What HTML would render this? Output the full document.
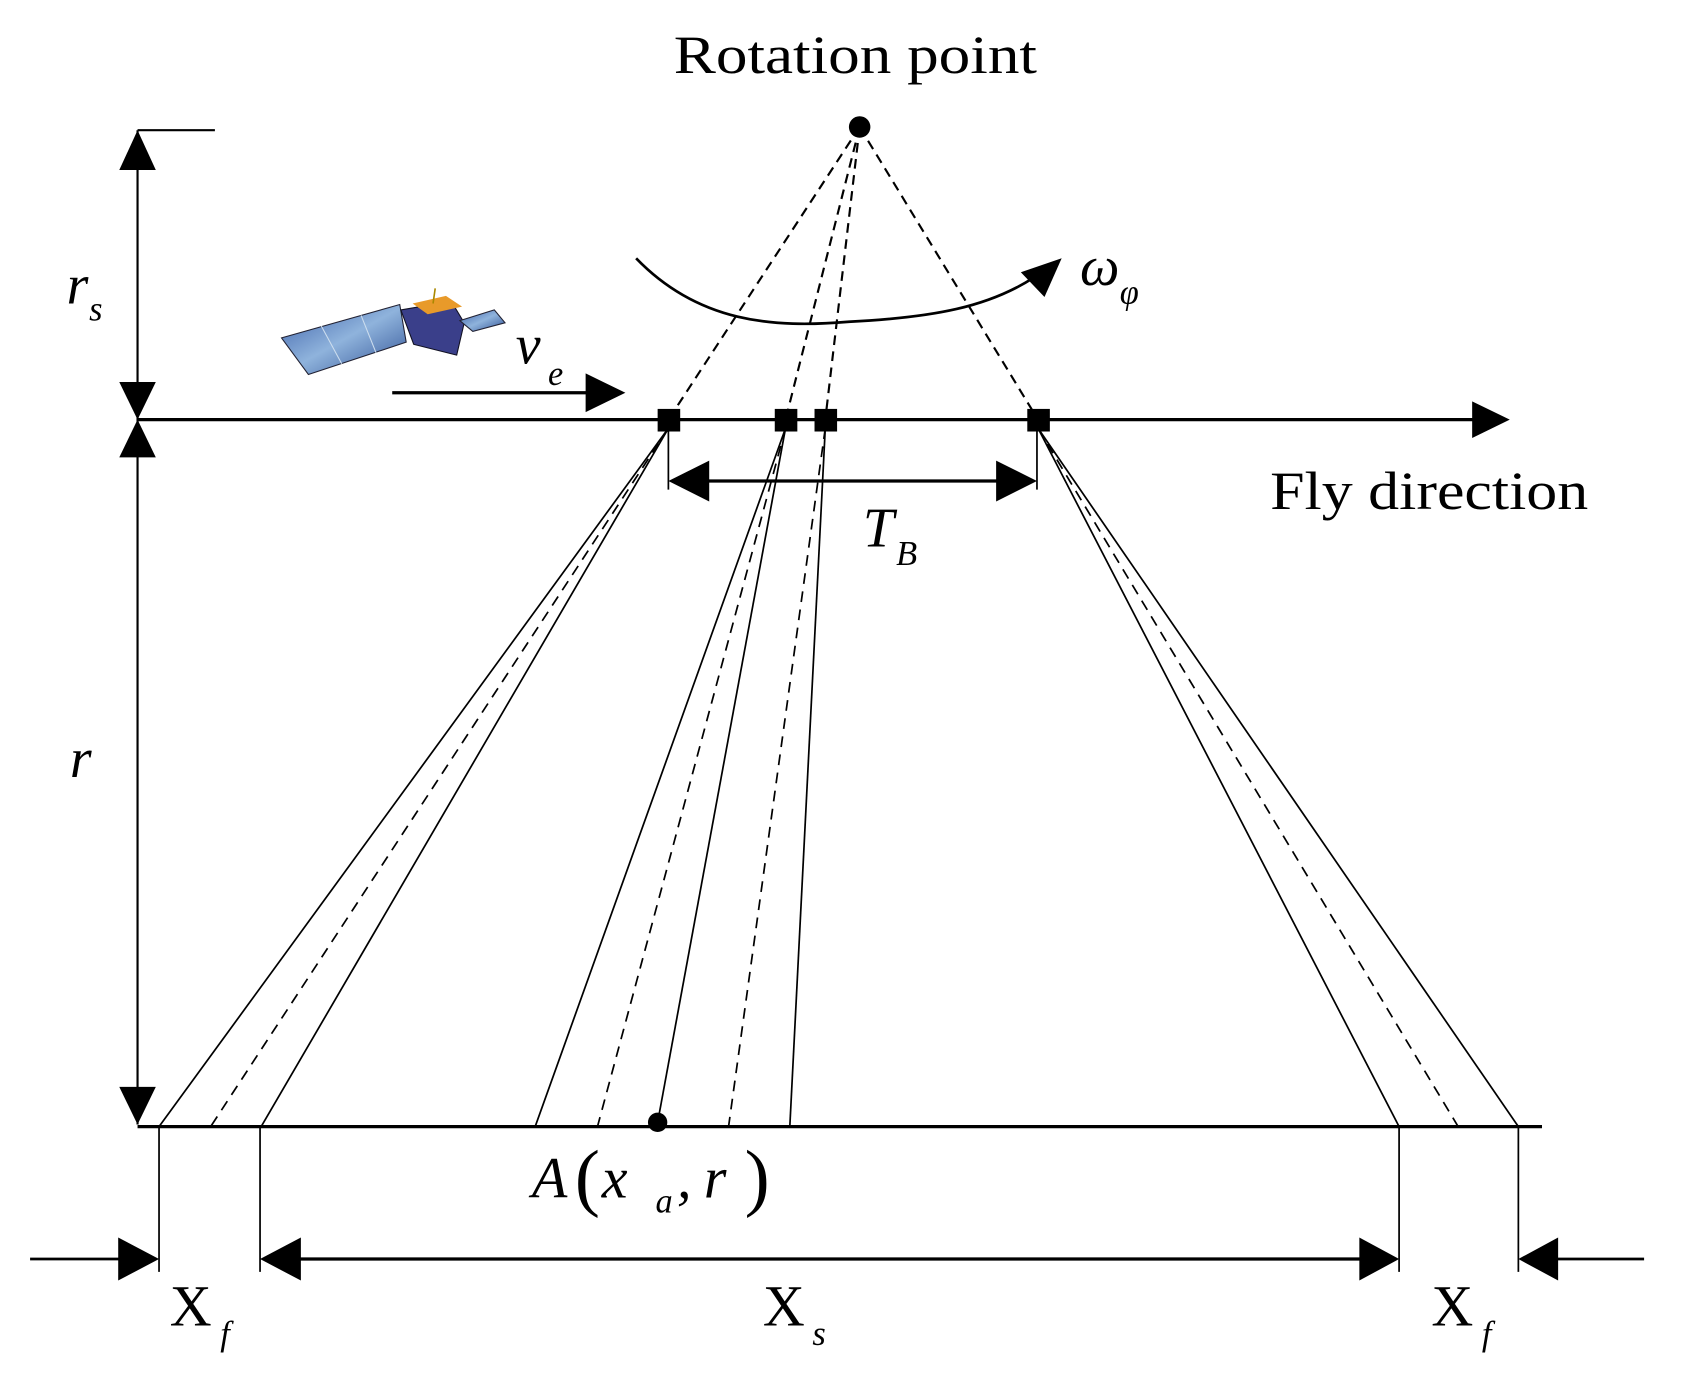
<!DOCTYPE html>
<html><head><meta charset="utf-8"><style>
html,body{margin:0;padding:0;background:#fff;}
svg{display:block;}
text{font-family:"Liberation Serif",serif;fill:#000;}
</style></head><body>
<svg width="1686" height="1386" viewBox="0 0 1569 1288" preserveAspectRatio="none" xmlns="http://www.w3.org/2000/svg">
<defs>
<linearGradient id="pg" x1="0" y1="0" x2="1" y2="1">
<stop offset="0" stop-color="#3b5fa8"/><stop offset="0.5" stop-color="#8fb3dc"/><stop offset="1" stop-color="#2d4f93"/>
</linearGradient>
</defs>
<g stroke="#000" fill="none">
<line x1="128" y1="121" x2="200" y2="121" stroke-width="2"/>
<line x1="128" y1="121" x2="128" y2="1045" stroke-width="2"/>
</g>
<g fill="#000">
<polygon points="128,121 111,158 145,158"/>
<polygon points="128,390 111,355 145,355"/>
<polygon points="128,390 111,425 145,425"/>
<polygon points="128,1045 111,1010 145,1010"/>
</g>
<line x1="128" y1="390" x2="1380" y2="390" stroke="#000" stroke-width="3"/>
<polygon points="1405,390 1370,373 1370,407" fill="#000"/>
<g stroke="#000" stroke-width="2" stroke-dasharray="9,6" fill="none">
<line x1="800" y1="118" x2="622" y2="390"/>
<line x1="800" y1="118" x2="731" y2="390"/>
<line x1="800" y1="118" x2="768" y2="390"/>
<line x1="800" y1="118" x2="966" y2="390"/>
</g>
<circle cx="800" cy="118" r="10" fill="#000"/>
<path d="M592,240 C650,300 720,305 790,299 C870,295 920,285 962,258" stroke="#000" stroke-width="2.5" fill="none"/>
<polygon points="988,240 950,253 972,276" fill="#000"/>
<line x1="365" y1="365" x2="550" y2="365" stroke="#000" stroke-width="3"/>
<polygon points="582,365 545,347 545,383" fill="#000"/>
<g stroke="#000" stroke-width="1.6" fill="none">
<line x1="622" y1="398" x2="148" y2="1047"/>
<line x1="622" y1="398" x2="243" y2="1047"/>
<line x1="731" y1="398" x2="498" y2="1047"/>
<line x1="731" y1="398" x2="612" y2="1043"/>
<line x1="768" y1="398" x2="735" y2="1047"/>
<line x1="966" y1="398" x2="1302" y2="1047"/>
<line x1="966" y1="398" x2="1413" y2="1047"/>
</g>
<g stroke="#000" stroke-width="1.6" fill="none" stroke-dasharray="10,7">
<line x1="622" y1="398" x2="196" y2="1047"/>
<line x1="731" y1="398" x2="556" y2="1047"/>
<line x1="768" y1="398" x2="678" y2="1047"/>
<line x1="966" y1="398" x2="1357" y2="1047"/>
</g>
<g fill="#000">
<rect x="612" y="380" width="21" height="21"/>
<rect x="721" y="380" width="21" height="21"/>
<rect x="758" y="380" width="21" height="21"/>
<rect x="956" y="380" width="21" height="21"/>
</g>
<g stroke="#000" stroke-width="1.6">
<line x1="622" y1="400" x2="622" y2="455"/>
<line x1="965" y1="400" x2="965" y2="455"/>
</g>
<line x1="650" y1="447" x2="935" y2="447" stroke="#000" stroke-width="3"/>
<polygon points="622,447 660,428 660,466" fill="#000"/>
<polygon points="965,447 927,428 927,466" fill="#000"/>
<line x1="128" y1="1047" x2="1435" y2="1047" stroke="#000" stroke-width="3"/>
<circle cx="612" cy="1043" r="9" fill="#000"/>
<g stroke="#000" stroke-width="1.6">
<line x1="148" y1="1047" x2="148" y2="1182"/>
<line x1="242" y1="1047" x2="242" y2="1182"/>
<line x1="1302" y1="1047" x2="1302" y2="1182"/>
<line x1="1413" y1="1047" x2="1413" y2="1182"/>
</g>
<line x1="270" y1="1170" x2="1275" y2="1170" stroke="#000" stroke-width="3"/>
<polygon points="242,1170 280,1150 280,1190" fill="#000"/>
<polygon points="1302,1170 1265,1150 1265,1190" fill="#000"/>
<line x1="28" y1="1170" x2="115" y2="1170" stroke="#000" stroke-width="2.5"/>
<polygon points="148,1170 110,1150 110,1190" fill="#000"/>
<line x1="1530" y1="1170" x2="1445" y2="1170" stroke="#000" stroke-width="2.5"/>
<polygon points="1413,1170 1450,1150 1450,1190" fill="#000"/>
<!-- satellite -->
<polygon points="262,314 372,283 378,318 287,348" fill="url(#pg)" stroke="#223" stroke-width="1"/>
<line x1="299" y1="303" x2="318" y2="338" stroke="#cde" stroke-width="1"/>
<line x1="336" y1="293" x2="350" y2="328" stroke="#cde" stroke-width="1"/>
<polygon points="373,288 420,280 432,300 425,330 385,320" fill="#3a3f8a" stroke="#112" stroke-width="1"/>
<polygon points="384,282 415,275 430,285 398,292" fill="#e89a2a"/>
<polygon points="428,298 460,288 470,300 440,308" fill="url(#pg)" stroke="#223" stroke-width="1"/>
<line x1="403" y1="282" x2="405" y2="268" stroke="#a80" stroke-width="1.5"/>
<!-- text -->
<text x="627" y="68" font-size="50" textLength="338" lengthAdjust="spacingAndGlyphs">Rotation point</text>
<text x="1182" y="473" font-size="50" textLength="296" lengthAdjust="spacingAndGlyphs">Fly direction</text>
<text x="62" y="282" font-size="52" font-style="italic">r</text>
<text x="83" y="298" font-size="32" font-style="italic">s</text>
<text x="65" y="722" font-size="52" font-style="italic">r</text>
<text x="480" y="338" font-size="52" font-style="italic">v</text>
<text x="510" y="358" font-size="32" font-style="italic">e</text>
<text x="1005" y="265" font-size="52" font-style="italic">ω</text>
<text x="1042" y="282" font-size="32" font-style="italic">φ</text>
<text x="803" y="508" font-size="52" font-style="italic">T</text>
<text x="834" y="525" font-size="32" font-style="italic">B</text>
<text x="495" y="1113" font-size="54" font-style="italic">A</text>
<text x="535" y="1117" font-size="70">(</text>
<text x="560" y="1113" font-size="54" font-style="italic">x</text>
<text x="610" y="1127" font-size="32" font-style="italic">a</text>
<text x="630" y="1113" font-size="54" font-style="italic">,</text>
<text x="655" y="1113" font-size="54" font-style="italic">r</text>
<text x="693" y="1117" font-size="70">)</text>
<text x="158" y="1232" font-size="54">X</text>
<text x="205" y="1250" font-size="32" font-style="italic">f</text>
<text x="710" y="1232" font-size="54">X</text>
<text x="756" y="1250" font-size="32" font-style="italic">s</text>
<text x="1332" y="1232" font-size="54">X</text>
<text x="1379" y="1250" font-size="32" font-style="italic">f</text>
</svg>
</body></html>
